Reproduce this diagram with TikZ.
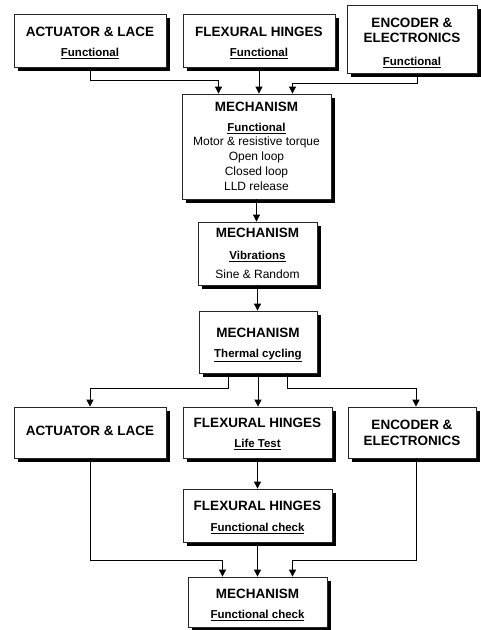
\documentclass[tikz,border=0pt]{standalone}
\usepackage{fontspec}
\setmainfont{Liberation Sans}
\usetikzlibrary{arrows.meta,shadows,calc}
\newcommand\boxtitle{\fontsize{13.5}{15}\selectfont\bfseries}
\newcommand\boxsubt[1]{{\fontsize{11.5}{14}\selectfont\bfseries\underline{#1}}}
\newcommand\topstrut[1]{\rule{0pt}{#1}}
\tikzset{
  stagebox/.style={rectangle, draw=black!85, line width=0.8pt, fill=white,
    align=center, inner sep=0pt, font=\fontsize{12}{15}\selectfont,
    general shadow={fill=black, shadow xshift=4pt, shadow yshift=-4pt}},
  arr/.style={draw=black, line width=0.8pt, -{Triangle[length=7pt,width=7pt]}}
}
\begin{document}
\begin{tikzpicture}[x=1pt,y=-1pt]
\useasboundingbox (0,0) rectangle (481,630);
% top row
\node[stagebox, minimum width=152pt, minimum height=53pt] (a1) at (90,40.5)
  {\topstrut{15pt}{\boxtitle ACTUATOR \& LACE}\\[5pt]\boxsubt{Functional}};
\node[stagebox, minimum width=152pt, minimum height=53pt] (f1) at (259,40.5)
  {\topstrut{15pt}{\boxtitle FLEXURAL HINGES}\\[5pt]\boxsubt{Functional}};
\node[stagebox, minimum width=130pt, minimum height=68pt] (e1) at (412,39)
  {\topstrut{18pt}{\boxtitle ENCODER \&}\\{\boxtitle ELECTRONICS}\\[8pt]\boxsubt{Functional}};
% mechanism chain
\node[stagebox, minimum width=149pt, minimum height=105pt] (m1) at (256.5,146.5)
  {{\boxtitle MECHANISM}\\[5pt]\boxsubt{Functional}\\[-1pt]Motor \& resistive torque\\Open loop\\Closed loop\\LLD release};
\node[stagebox, minimum width=119pt, minimum height=63pt] (m2) at (257.5,253.5)
  {{\boxtitle MECHANISM}\\[7pt]\boxsubt{Vibrations}\\[4pt]Sine \& Random};
\node[stagebox, minimum width=118pt, minimum height=62pt] (m3) at (258,342)
  {\topstrut{15pt}{\boxtitle MECHANISM}\\[5pt]\boxsubt{Thermal cycling}};
% second row
\node[stagebox, minimum width=152pt, minimum height=51pt] (a2) at (90,432.5)
  {{\boxtitle ACTUATOR \& LACE}\rule[-4pt]{0pt}{0pt}};
\node[stagebox, minimum width=149pt, minimum height=51pt] (f2) at (257.5,432.5)
  {\topstrut{13pt}{\boxtitle FLEXURAL HINGES}\\[5pt]\boxsubt{Life Test}};
\node[stagebox, minimum width=128pt, minimum height=51pt] (e2) at (412,432.5)
  {{\boxtitle ENCODER \&}\\[1pt]{\boxtitle ELECTRONICS}};
\node[stagebox, minimum width=149pt, minimum height=53pt] (f3) at (257.5,515.5)
  {\topstrut{13pt}{\boxtitle FLEXURAL HINGES}\\[6pt]\boxsubt{Functional check}};
\node[stagebox, minimum width=139pt, minimum height=50pt] (m4) at (257.5,602)
  {\topstrut{15pt}{\boxtitle MECHANISM}\\[5pt]\boxsubt{Functional check}};
% junction levels and arrow targets
\coordinate (j1a) at (0,80);
\coordinate (j1b) at (0,83);
\coordinate (j3) at (0,388);
\coordinate (j4) at (0,560);
\coordinate (m1w) at ([xshift=-38pt]m1.north);
\coordinate (m1e) at ([xshift=36pt]m1.north);
\coordinate (e1o) at ([xshift=5pt]e1.south);
\coordinate (m3w) at ([xshift=-30pt]m3.south);
\coordinate (m3e) at ([xshift=29pt]m3.south);
\coordinate (e2i) at ([xshift=4pt]e2.north);
\coordinate (e2o) at ([xshift=4pt]e2.south);
\coordinate (m4w) at ([xshift=-35pt]m4.north);
\coordinate (m4e) at ([xshift=35pt]m4.north);
% connectors
\draw[arr] (a1.south) -- (a1.south |- j1a) -| (m1w);
\draw[arr] (f1.south) -- (f1.south |- m1.north);
\draw[arr] (e1o) -- (e1o |- j1b) -| (m1e);
\draw[arr] (m1.south) -- (m1.south |- m2.north);
\draw[arr] (m2.south) -- (m2.south |- m3.north);
\draw[arr] (m3w) -- (m3w |- j3) -| (a2.north);
\draw[arr] (m3.south) -- (m3.south |- f2.north);
\draw[arr] (m3e) -- (m3e |- j3) -| (e2i);
\draw[arr] (f2.south) -- (f2.south |- f3.north);
\draw[arr] (a2.south) -- (a2.south |- j4) -| (m4w);
\draw[arr] (f3.south) -- (f3.south |- m4.north);
\draw[arr] (e2o) -- (e2o |- j4) -| (m4e);
\end{tikzpicture}
\end{document}
